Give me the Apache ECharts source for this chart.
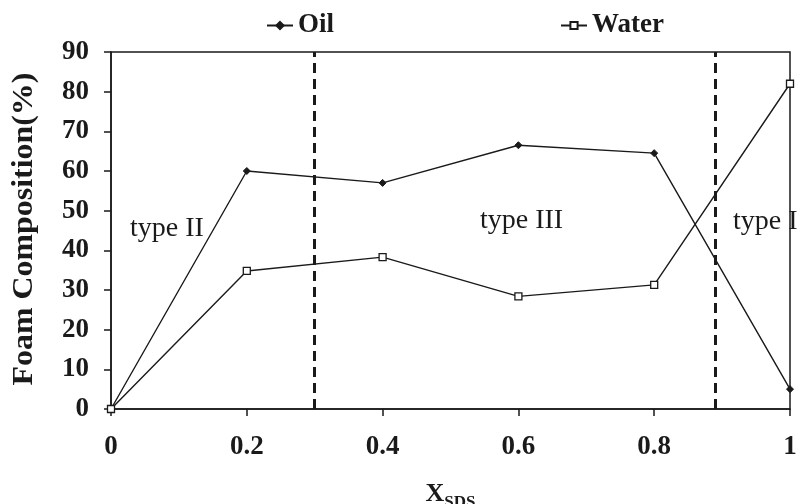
<!DOCTYPE html>
<html><head><meta charset="utf-8">
<script src="https://cdn.jsdelivr.net/npm/echarts@6/dist/echarts.min.js"></script>
<style>html,body{margin:0;padding:0;background:#fff}#c{width:801px;height:504px}</style>
</head><body><div id="c"></div>
<script>
const xValues = [0, 0.2, 0.4, 0.6, 0.8, 1];
const oil = [0, 60, 57, 66.5, 64.5, 5];
const water = [0, 34.8, 38.3, 28.4, 31.3, 82];
const boundaries = [0.305, 0.888];
const regionLabels = ['type II', 'type III', 'type I'];
const yAxisTitle = 'Foam Composition(%)';

const FONT = "'Liberation Serif','Times New Roman',serif";
const INK = '#1a1a1a';
const chart = echarts.init(document.getElementById('c'), null, {renderer: 'canvas'});

const pairs = (ys) => xValues.map((x, i) => [x, ys[i]]);

const option = {
  animation: false,
  backgroundColor: '#fff',
  grid: {left: 111, right: 11, top: 52, bottom: 95, show: true, borderColor: INK, borderWidth: 1.5,
         containLabel: false, outerBoundsMode: 'none'},
  legend: [
    {data: ['Oil'], left: 261, top: 7, itemWidth: 26, itemHeight: 9, itemGap: 6,
     textStyle: {fontFamily: FONT, fontWeight: 'bold', fontSize: 27, color: INK}},
    {data: ['Water'], left: 555, top: 7, itemWidth: 26, itemHeight: 9, itemGap: 6,
     textStyle: {fontFamily: FONT, fontWeight: 'bold', fontSize: 27, color: INK}}
  ],
  xAxis: {
    type: 'value', min: 0, max: 1, interval: 0.2,
    axisLine: {show: true, lineStyle: {color: INK, width: 1.5}},
    axisTick: {show: true, inside: false, length: 7, lineStyle: {color: INK, width: 1.5}},
    splitLine: {show: false},
    axisLabel: {fontFamily: FONT, fontWeight: 'bold', fontSize: 27, color: INK, margin: 25},
    name: '{a|X}{b|SDS}',
    nameLocation: 'middle', nameGap: 72,
    nameTextStyle: {
      rich: {
        a: {fontFamily: FONT, fontWeight: 'bold', fontSize: 26, color: INK, lineHeight: 24, verticalAlign: 'top'},
        b: {fontFamily: FONT, fontWeight: 'bold', fontSize: 17, color: INK, lineHeight: 30, verticalAlign: 'bottom'}
      }
    }
  },
  yAxis: {
    type: 'value', min: 0, max: 90, interval: 10,
    axisLine: {show: true, lineStyle: {color: INK, width: 1.5}},
    axisTick: {show: true, inside: false, length: 7, lineStyle: {color: INK, width: 1.5}},
    splitLine: {show: false},
    axisLabel: {fontFamily: FONT, fontWeight: 'bold', fontSize: 27, color: INK, margin: 22}
  },
  series: [
    {
      name: 'Oil', type: 'line', data: pairs(oil),
      symbol: 'diamond', symbolSize: 7,
      lineStyle: {color: INK, width: 1.4},
      itemStyle: {color: INK, borderColor: INK, borderWidth: 1},
      markLine: {
        silent: true, symbol: ['none', 'none'], label: {show: false},
        lineStyle: {color: INK, width: 3, type: [10, 6]},
        data: boundaries.map(v => ({xAxis: v}))
      },
      z: 3
    },
    {
      name: 'Water', type: 'line', data: pairs(water),
      symbol: 'rect', symbolSize: 7,
      lineStyle: {color: INK, width: 1.4},
      itemStyle: {color: '#fff', borderColor: INK, borderWidth: 1.3},
      z: 3
    }
  ],
  graphic: [
    {type: 'text', x: 25, y: 229, rotation: Math.PI / 2, scaleX: 1.1,
     style: {text: yAxisTitle, font: "bold 29px " + FONT, fill: INK, textAlign: 'center', textVerticalAlign: 'middle'}},
    {type: 'text', x: 130, y: 229,
     style: {text: regionLabels[0], font: "28px " + FONT, fill: INK, textAlign: 'left', textVerticalAlign: 'middle'}},
    {type: 'text', x: 480, y: 221,
     style: {text: regionLabels[1], font: "28px " + FONT, fill: INK, textAlign: 'left', textVerticalAlign: 'middle'}},
    {type: 'text', x: 733, y: 222,
     style: {text: regionLabels[2], font: "28px " + FONT, fill: INK, textAlign: 'left', textVerticalAlign: 'middle'}}
  ]
};
chart.setOption(option);
</script>
</body></html>
